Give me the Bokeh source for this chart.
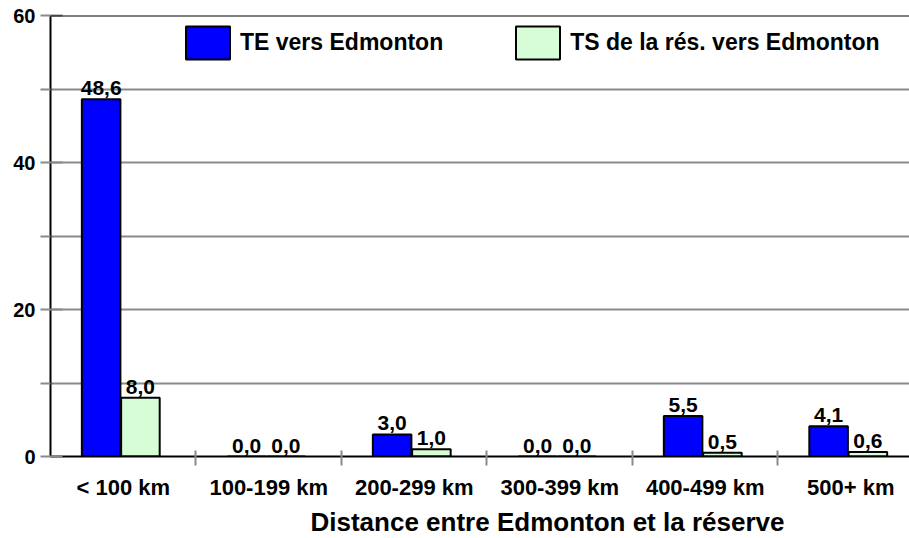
from bokeh.plotting import figure
from bokeh.models import (ColumnDataSource, Range1d, FixedTicker, Span, Legend,
                          LegendItem, Title)
from bokeh.transform import dodge
from bokeh.core.properties import value
from bokeh.embed import file_html
from bokeh.resources import INLINE

categories = ["< 100 km", "100-199 km", "200-299 km", "300-399 km", "400-499 km", "500+ km"]
te_values = [48.6, 0.0, 3.0, 0.0, 5.5, 4.1]
ts_values = [8.0, 0.0, 1.0, 0.0, 0.5, 0.6]
series_names = ["TE vers Edmonton", "TS de la rés. vers Edmonton"]
y_ticks = [0, 20, 40, 60]
y_minor = [10, 30, 50]
x_title = "Distance entre Edmonton et la réserve"

FONT_NAME = "Liberation Sans"
FONT = value(FONT_NAME)
centers = [i + 0.5 for i in range(len(categories))]
bounds = [i for i in range(1, len(categories))]

def fmt(v):
    return f"{v:.1f}".replace(".", ",")

src = ColumnDataSource(dict(
    x=centers, te=te_values, ts=ts_values,
    te_lbl=[fmt(v) for v in te_values], ts_lbl=[fmt(v) for v in ts_values],
))

p = figure(width=909, height=538, output_backend="svg", toolbar_location=None,
           x_range=Range1d(0, 5.904), y_range=Range1d(0, 60),
           min_border_left=50, min_border_right=0, min_border_top=15, min_border_bottom=75)
p.outline_line_color = None
p.background_fill_color = "white"

blue = p.vbar(x=dodge("x", -0.152, range=p.x_range), top="te", width=0.265, source=src,
              fill_color="#0000ff", line_color="black", line_width=2)
green = p.vbar(x=dodge("x", 0.118, range=p.x_range), top="ts", width=0.265, source=src,
               fill_color="#d6fdd6", line_color="black", line_width=2)

for col, off in (("te", -0.152), ("ts", 0.118)):
    p.text(x=dodge("x", off, range=p.x_range), y=col, text=col + "_lbl", source=src,
           text_font=FONT, text_font_style="bold", text_font_size="21px",
           text_align="center", text_baseline="bottom", y_offset=-4, text_color="black")

p.add_layout(Span(location=60, dimension="width", line_color="black", line_width=2))

# x axis
xa = p.xaxis[0]
xa.ticker = FixedTicker(ticks=centers, minor_ticks=bounds)
xa.major_label_overrides = {c: lab for c, lab in zip(centers, categories)}
xa.major_tick_in = 0
xa.major_tick_out = 0
xa.minor_tick_in = 6
xa.minor_tick_out = 9
xa.minor_tick_line_color = "#8a8a8a"
xa.minor_tick_line_width = 2
xa.axis_line_color = "black"
xa.axis_line_width = 2
xa.major_label_standoff = 9
xa.major_label_text_font = FONT_NAME
xa.major_label_text_font_style = "bold"
xa.major_label_text_font_size = "22px"
xa.major_label_text_color = "black"
p.xgrid.grid_line_color = None

# y axis
ya = p.yaxis[0]
ya.ticker = FixedTicker(ticks=y_ticks, minor_ticks=y_minor)
ya.major_tick_in = 12
ya.major_tick_out = 10
ya.minor_tick_in = 0
ya.minor_tick_out = 10
ya.major_tick_line_color = "#8a8a8a"
ya.minor_tick_line_color = "#8a8a8a"
ya.major_tick_line_width = 2
ya.minor_tick_line_width = 2
ya.axis_line_color = "black"
ya.axis_line_width = 2
ya.major_label_standoff = 5
ya.major_label_text_font = FONT_NAME
ya.major_label_text_font_style = "bold"
ya.major_label_text_font_size = "20px"
ya.major_label_text_color = "black"
p.ygrid.grid_line_color = "#8a8a8a"
p.ygrid.grid_line_width = 2
p.ygrid.minor_grid_line_color = "#8a8a8a"
p.ygrid.minor_grid_line_width = 2

legend = Legend(items=[LegendItem(label=series_names[0], renderers=[blue]),
                       LegendItem(label=series_names[1], renderers=[green])],
                location=(130, 393), orientation="horizontal",
                glyph_width=55, glyph_height=41, label_standoff=5, spacing=67,
                padding=0, margin=0, border_line_color=None, background_fill_alpha=0,
                label_text_font=FONT_NAME, label_text_font_style="bold",
                label_text_font_size="23px", label_text_color="black")
p.add_layout(legend, "center")

p.add_layout(Title(text=x_title, align="left", offset=260, standoff=4,
                   text_font=FONT_NAME, text_font_style="bold", text_font_size="26px",
                   text_color="black"), "below")

open("out.html", "w").write(file_html(p, INLINE))
